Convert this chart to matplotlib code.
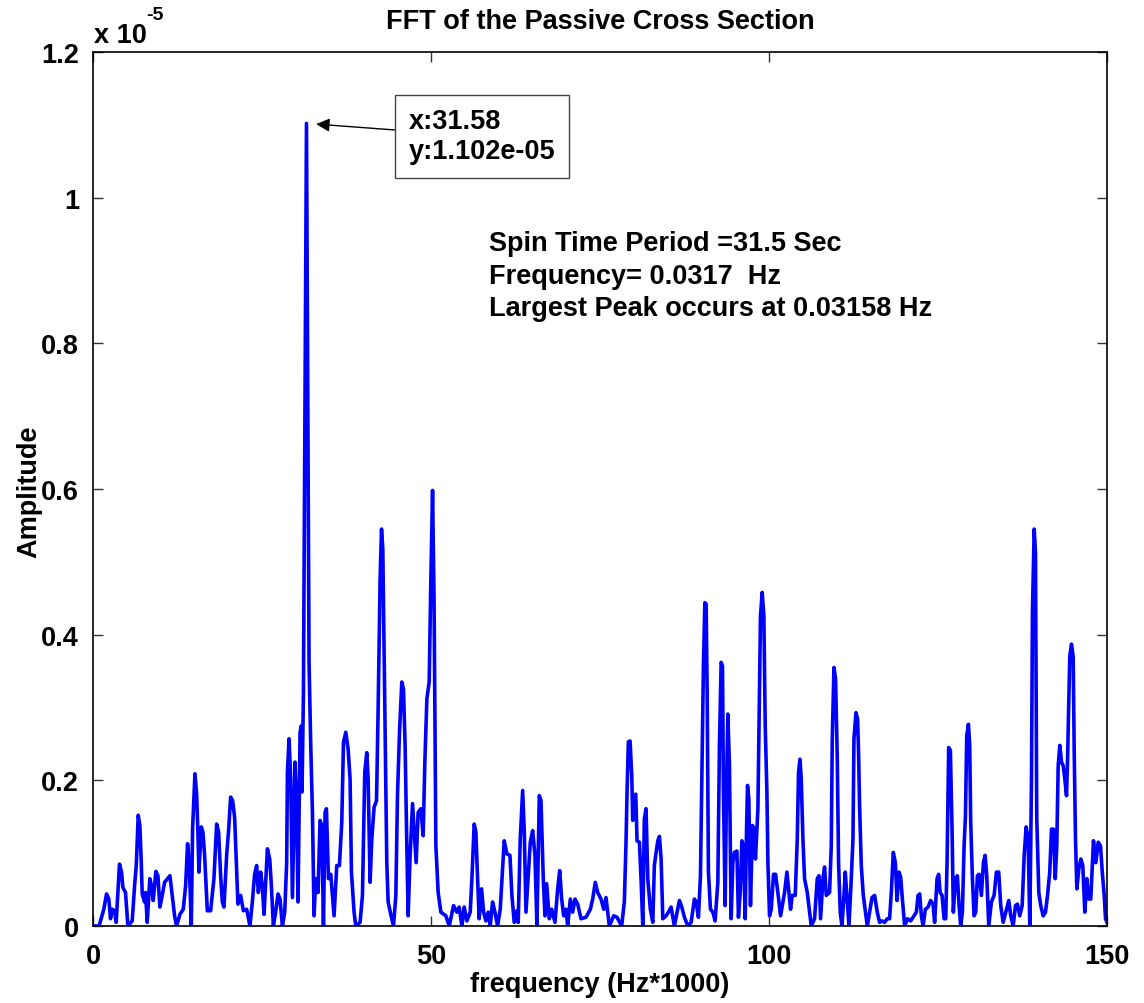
import matplotlib
matplotlib.use("Agg")
import matplotlib.pyplot as plt

plt.rcParams['font.family'] = ['Liberation Sans', 'DejaVu Sans']
plt.rcParams['font.weight'] = 'bold'

# frequency in Hz*1000, amplitude in units of 1e-5
freq = [0.0, 0.9, 1.6, 2.0, 2.34, 2.59, 2.84, 3.18, 3.43, 3.92, 4.22, 4.42, 4.81, 5.16, 5.8,
        6.15, 6.4, 6.69, 6.93, 7.14, 7.28, 7.63, 7.77, 8.02, 8.41, 8.66, 8.91, 9.3, 9.6, 9.9,
        10.24, 10.59, 11.38, 11.72, 12.07, 12.36, 12.86, 13.35, 13.7, 13.99, 14.24, 14.54, 14.73,
        15.08, 15.33, 15.52, 15.67, 16.02, 16.26, 16.51, 16.91, 17.4, 17.89, 18.29, 18.58, 18.88,
        19.13, 19.37, 19.77, 20.07, 20.36, 20.66, 20.95, 21.2, 21.44, 21.84, 22.24, 22.73, 23.22,
        23.57, 23.91, 24.21, 24.46, 24.8, 25.05, 25.3, 25.8, 26.14, 26.39, 26.68, 27.02, 27.37,
        27.66, 28.02, 28.36, 28.65, 28.76, 29.0, 29.25, 29.5, 29.89, 30.09, 30.33, 30.63, 30.83,
        30.92, 31.13, 31.58, 31.96, 32.2, 32.46, 32.7, 32.95, 33.29, 33.59, 33.84, 34.09, 34.33,
        34.53, 34.83, 35.17, 35.42, 35.66, 36.06, 36.45, 36.8, 37.05, 37.39, 37.74, 38.03, 38.23,
        38.62, 38.87, 39.51, 39.86, 40.2, 40.5, 40.7, 40.99, 41.24, 41.58, 41.94, 42.17, 42.47,
        42.68, 42.87, 43.17, 43.46, 43.66, 44.05, 44.45, 44.8, 45.04, 45.34, 45.68, 45.93, 46.17,
        46.38, 46.62, 46.91, 47.27, 47.5, 47.8, 48.1, 48.5, 48.84, 49.09, 49.39, 49.73, 49.98,
        50.23, 50.45, 50.72, 51.06, 51.46, 52.2, 52.69, 53.34, 53.83, 54.17, 54.57, 54.91, 55.31,
        55.8, 56.05, 56.39, 56.64, 56.89, 57.13, 57.48, 57.78, 58.12, 58.46, 58.76, 59.11, 59.46,
        59.85, 60.24, 60.59, 60.83, 61.23, 61.68, 61.97, 62.31, 62.71, 62.9, 63.2, 63.56, 63.8,
        64.05, 64.39, 64.69, 65.04, 65.38, 65.67, 66.02, 66.27, 66.61, 66.86, 67.11, 67.5, 67.85,
        68.34, 68.74, 69.04, 69.33, 69.63, 69.97, 70.22, 70.61, 70.96, 71.3, 71.7, 72.19, 72.93,
        73.57, 73.92, 74.3, 74.66, 75.15, 75.55, 75.89, 76.38, 77.03, 77.52, 78.2, 78.6, 78.85,
        79.0, 79.2, 79.45, 79.7, 79.84, 80.09, 80.29, 80.48, 80.83, 81.07, 81.33, 81.56, 81.81,
        82.07, 82.45, 82.81, 83.04, 83.3, 83.55, 83.79, 84.04, 84.29, 84.78, 85.12, 85.52, 86.0,
        86.4, 86.75, 87.1, 87.49, 87.99, 88.48, 88.97, 89.22, 89.56, 89.86, 90.11, 90.3, 90.51,
        90.7, 90.85, 91.04, 91.34, 91.69, 92.03, 92.43, 92.67, 92.92, 93.12, 93.26, 93.51, 93.71,
        93.91, 94.15, 94.4, 94.65, 94.89, 95.25, 95.48, 95.74, 95.99, 96.22, 96.48, 96.67, 96.82,
        97.02, 97.26, 97.56, 97.76, 98.0, 98.36, 98.59, 98.74, 98.99, 99.24, 99.44, 99.69, 99.84,
        100.08, 100.33, 100.67, 100.97, 101.31, 101.71, 102.3, 102.65, 102.89, 103.19, 103.44,
        103.88, 104.18, 104.37, 104.58, 104.77, 105.02, 105.26, 105.66, 106.0, 106.25, 106.74,
        107.14, 107.39, 107.63, 107.98, 108.22, 108.47, 108.96, 109.21, 109.36, 109.61, 109.85,
        110.1, 110.29, 110.54, 110.79, 111.09, 111.28, 111.58, 111.83, 112.17, 112.42, 112.57,
        112.87, 113.11, 113.25, 113.4, 113.65, 113.95, 114.25, 114.54, 114.88, 115.24, 115.62,
        116.02, 116.36, 116.72, 117.1, 117.5, 117.84, 118.09, 118.39, 118.69, 118.94, 119.24,
        119.48, 119.73, 120.07, 120.47, 120.95, 121.46, 121.8, 122.05, 122.29, 122.54, 122.79,
        123.13, 123.53, 123.91, 124.27, 124.5, 124.86, 125.1, 125.31, 125.6, 125.9, 126.14,
        126.34, 126.58, 126.83, 127.08, 127.27, 127.57, 127.86, 128.12, 128.36, 128.61, 128.86,
        129.06, 129.25, 129.5, 129.69, 129.84, 130.09, 130.34, 130.58, 130.83, 131.08, 131.42,
        131.72, 131.97, 132.21, 132.51, 132.9, 133.3, 133.64, 133.98, 134.28, 134.64, 135.13,
        135.47, 135.76, 136.12, 136.46, 136.75, 137.09, 137.45, 137.75, 138.04, 138.34, 138.58,
        138.83, 138.97, 139.23, 139.42, 139.61, 139.91, 140.2, 140.56, 140.9, 141.2, 141.53,
        141.79, 142.08, 142.34, 142.57, 142.78, 143.02, 143.27, 143.52, 143.76, 144.01, 144.16,
        144.31, 144.5, 144.75, 145.0, 145.15, 145.34, 145.54, 145.83, 146.13, 146.42, 146.72,
        147.01, 147.31, 147.6, 148.0, 148.35, 148.7, 149.04, 149.3, 149.59, 149.78, 150.0]

amp = [0.0, 0.0, 0.023, 0.044, 0.037, 0.01, 0.023, 0.021, 0.005, 0.085, 0.074, 0.053, 0.046, 0.0, 0.007,
       0.055, 0.083, 0.152, 0.138, 0.087, 0.044, 0.033, 0.046, 0.005, 0.065, 0.055, 0.035, 0.075, 0.069, 0.026,
       0.042, 0.06, 0.069, 0.042, 0.014, 0.0, 0.016, 0.023, 0.055, 0.113, 0.087, 0.0, 0.133,
       0.209, 0.181, 0.129, 0.074, 0.136, 0.129, 0.097, 0.021, 0.021, 0.065, 0.14, 0.129, 0.069,
       0.033, 0.026, 0.097, 0.133, 0.177, 0.172, 0.149, 0.087, 0.03, 0.042, 0.021, 0.023, 0.0,
       0.033, 0.071, 0.083, 0.046, 0.074, 0.055, 0.016, 0.106, 0.092, 0.055, 0.0, 0.019, 0.044,
       0.037, 0.0, 0.019, 0.087, 0.211, 0.257, 0.202, 0.039, 0.225, 0.174, 0.033, 0.266, 0.275,
       0.184, 0.321, 1.102, 0.362, 0.252, 0.156, 0.014, 0.065, 0.046, 0.145, 0.138, 0.0, 0.156,
       0.161, 0.065, 0.071, 0.042, 0.014, 0.083, 0.083, 0.142, 0.252, 0.266, 0.243, 0.202, 0.074,
       0.019, 0.0, 0.005, 0.042, 0.211, 0.238, 0.202, 0.06, 0.119, 0.163, 0.172, 0.293, 0.476,
       0.545, 0.518, 0.293, 0.087, 0.033, 0.016, 0.0, 0.042, 0.179, 0.266, 0.335, 0.325, 0.248,
       0.133, 0.014, 0.097, 0.168, 0.133, 0.087, 0.156, 0.161, 0.124, 0.225, 0.312, 0.335, 0.476,
       0.598, 0.45, 0.11, 0.046, 0.019, 0.014, 0.0, 0.028, 0.019, 0.026, 0.0, 0.026, 0.007,
       0.019, 0.065, 0.14, 0.129, 0.065, 0.01, 0.051, 0.019, 0.007, 0.019, 0.0, 0.033, 0.019,
       0.0, 0.023, 0.078, 0.117, 0.099, 0.097, 0.042, 0.005, 0.021, 0.005, 0.119, 0.186, 0.129,
       0.019, 0.069, 0.115, 0.131, 0.097, 0.0, 0.179, 0.172, 0.065, 0.014, 0.058, 0.01, 0.023,
       0.005, 0.051, 0.076, 0.037, 0.014, 0.023, 0.0, 0.037, 0.019, 0.037, 0.03, 0.01, 0.012,
       0.023, 0.037, 0.06, 0.046, 0.037, 0.023, 0.039, 0.0, 0.014, 0.012, 0.0, 0.033, 0.115,
       0.184, 0.253, 0.254, 0.206, 0.145, 0.179, 0.181, 0.117, 0.115, 0.065, 0.0, 0.147, 0.161,
       0.065, 0.023, 0.005, 0.083, 0.101, 0.117, 0.123, 0.092, 0.01, 0.014, 0.019, 0.026, 0.0,
       0.019, 0.035, 0.026, 0.012, 0.0, 0.005, 0.037, 0.033, 0.012, 0.069, 0.229, 0.357, 0.444,
       0.442, 0.321, 0.074, 0.023, 0.019, 0.007, 0.06, 0.248, 0.362, 0.357, 0.184, 0.028, 0.184,
       0.291, 0.22, 0.01, 0.087, 0.101, 0.103, 0.012, 0.046, 0.117, 0.11, 0.01, 0.129, 0.193,
       0.174, 0.028, 0.138, 0.133, 0.092, 0.161, 0.321, 0.426, 0.458, 0.426, 0.275, 0.184, 0.087,
       0.014, 0.023, 0.071, 0.071, 0.046, 0.014, 0.046, 0.074, 0.051, 0.023, 0.042,
       0.042, 0.119, 0.211, 0.229, 0.202, 0.119, 0.065, 0.046, 0.019, 0.0, 0.01,
       0.065, 0.069, 0.01, 0.065, 0.081, 0.042, 0.046, 0.11, 0.257, 0.355, 0.339,
       0.229, 0.087, 0.019, 0.0, 0.042, 0.074, 0.033, 0.0, 0.065, 0.119, 0.257,
       0.293, 0.284, 0.238, 0.165, 0.083, 0.042, 0.021, 0.0, 0.019, 0.039, 0.042,
       0.019, 0.005, 0.007, 0.005, 0.01, 0.01, 0.046, 0.101, 0.087, 0.035, 0.074,
       0.067, 0.037, 0.0, 0.01, 0.007, 0.014, 0.019, 0.042, 0.044, 0.014, 0.0,
       0.023, 0.026, 0.035, 0.03, 0.005, 0.065, 0.071, 0.046, 0.042, 0.01, 0.01,
       0.087, 0.245, 0.241, 0.133, 0.019, 0.065, 0.069, 0.028, 0.0, 0.019, 0.11,
       0.151, 0.261, 0.277, 0.248, 0.142, 0.065, 0.014, 0.019, 0.069, 0.071, 0.042,
       0.087, 0.097, 0.069, 0.0, 0.033, 0.042, 0.074, 0.074, 0.028, 0.005, 0.023,
       0.035, 0.014, 0.0, 0.028, 0.03, 0.014, 0.028, 0.097, 0.136, 0.119, 0.0,
       0.202, 0.431, 0.545, 0.513, 0.147, 0.046, 0.028, 0.014, 0.019, 0.042, 0.074,
       0.133, 0.133, 0.065, 0.11, 0.22, 0.248, 0.225, 0.22, 0.202, 0.179, 0.225,
       0.293, 0.371, 0.387, 0.369, 0.238, 0.119, 0.051, 0.078, 0.092, 0.083, 0.019,
       0.065, 0.037, 0.037, 0.117, 0.087, 0.115, 0.11, 0.074, 0.042, 0.01, 0.005]

xticks = [0, 50, 100, 150]
yticks = [0, 0.2, 0.4, 0.6, 0.8, 1.0, 1.2]
ytick_labels = ['0', '0.2', '0.4', '0.6', '0.8', '1', '1.2']

FS = 19.5
W, H = 1144, 1004

fig = plt.figure(figsize=(11.44, 10.04), dpi=100)
ax = fig.add_axes([93 / W, 1 - 927 / H, (1107 - 93) / W, (927 - 53) / H])

ax.plot(freq, amp, color='#0000ff', linewidth=2.6)

ax.set_xlim(0, 150)
ax.set_ylim(0, 1.2)
ax.set_xticks(xticks)
ax.set_xticklabels([str(t) for t in xticks])
ax.set_yticks(yticks)
ax.set_yticklabels(ytick_labels)
ax.tick_params(direction='in', length=7, width=1, labelsize=FS,
               top=True, right=True, color='#333333')
ax.tick_params(axis='x', pad=12)
ax.tick_params(axis='y', pad=10)
for s in ax.spines.values():
    s.set_linewidth(1.2)

fig.text(600 / W, 1 - 22 / H, 'FFT of the Passive Cross Section', fontsize=FS,
         fontweight='bold', ha='center', va='center')
fig.text(600 / W, 1 - 985 / H, 'frequency (Hz*1000)', fontsize=FS,
         fontweight='bold', ha='center', va='center')
fig.text(29 / W, 1 - 492 / H, 'Amplitude', fontsize=FS, fontweight='bold',
         ha='center', va='center', rotation=90)

# exponent label like MATLAB
fig.text(94 / W, 1 - 36 / H, 'x 10', fontsize=FS, fontweight='bold', ha='left', va='center')
fig.text(146 / W, 1 - 15 / H, '-5', fontsize=14, fontweight='bold', ha='left', va='center')

# data tip
ax.annotate('x:31.58\ny:1.102e-05', xy=(31.58, 1.102), xytext=(46.7, 1.084),
            fontsize=FS, fontweight='bold', ha='left', va='center', linespacing=1.2,
            bbox=dict(boxstyle='square,pad=0.5', fc='white', ec='#444444', lw=1),
            arrowprops=dict(arrowstyle='-|>', color='black', lw=1, mutation_scale=20,
                            shrinkA=0, shrinkB=7))

ax.text(58.6, 0.893, 'Spin Time Period =31.5 Sec\nFrequency= 0.0317  Hz\nLargest Peak occurs at 0.03158 Hz',
        fontsize=FS, fontweight='bold', ha='left', va='center', linespacing=1.32)

fig.savefig('out.png', dpi=100)
